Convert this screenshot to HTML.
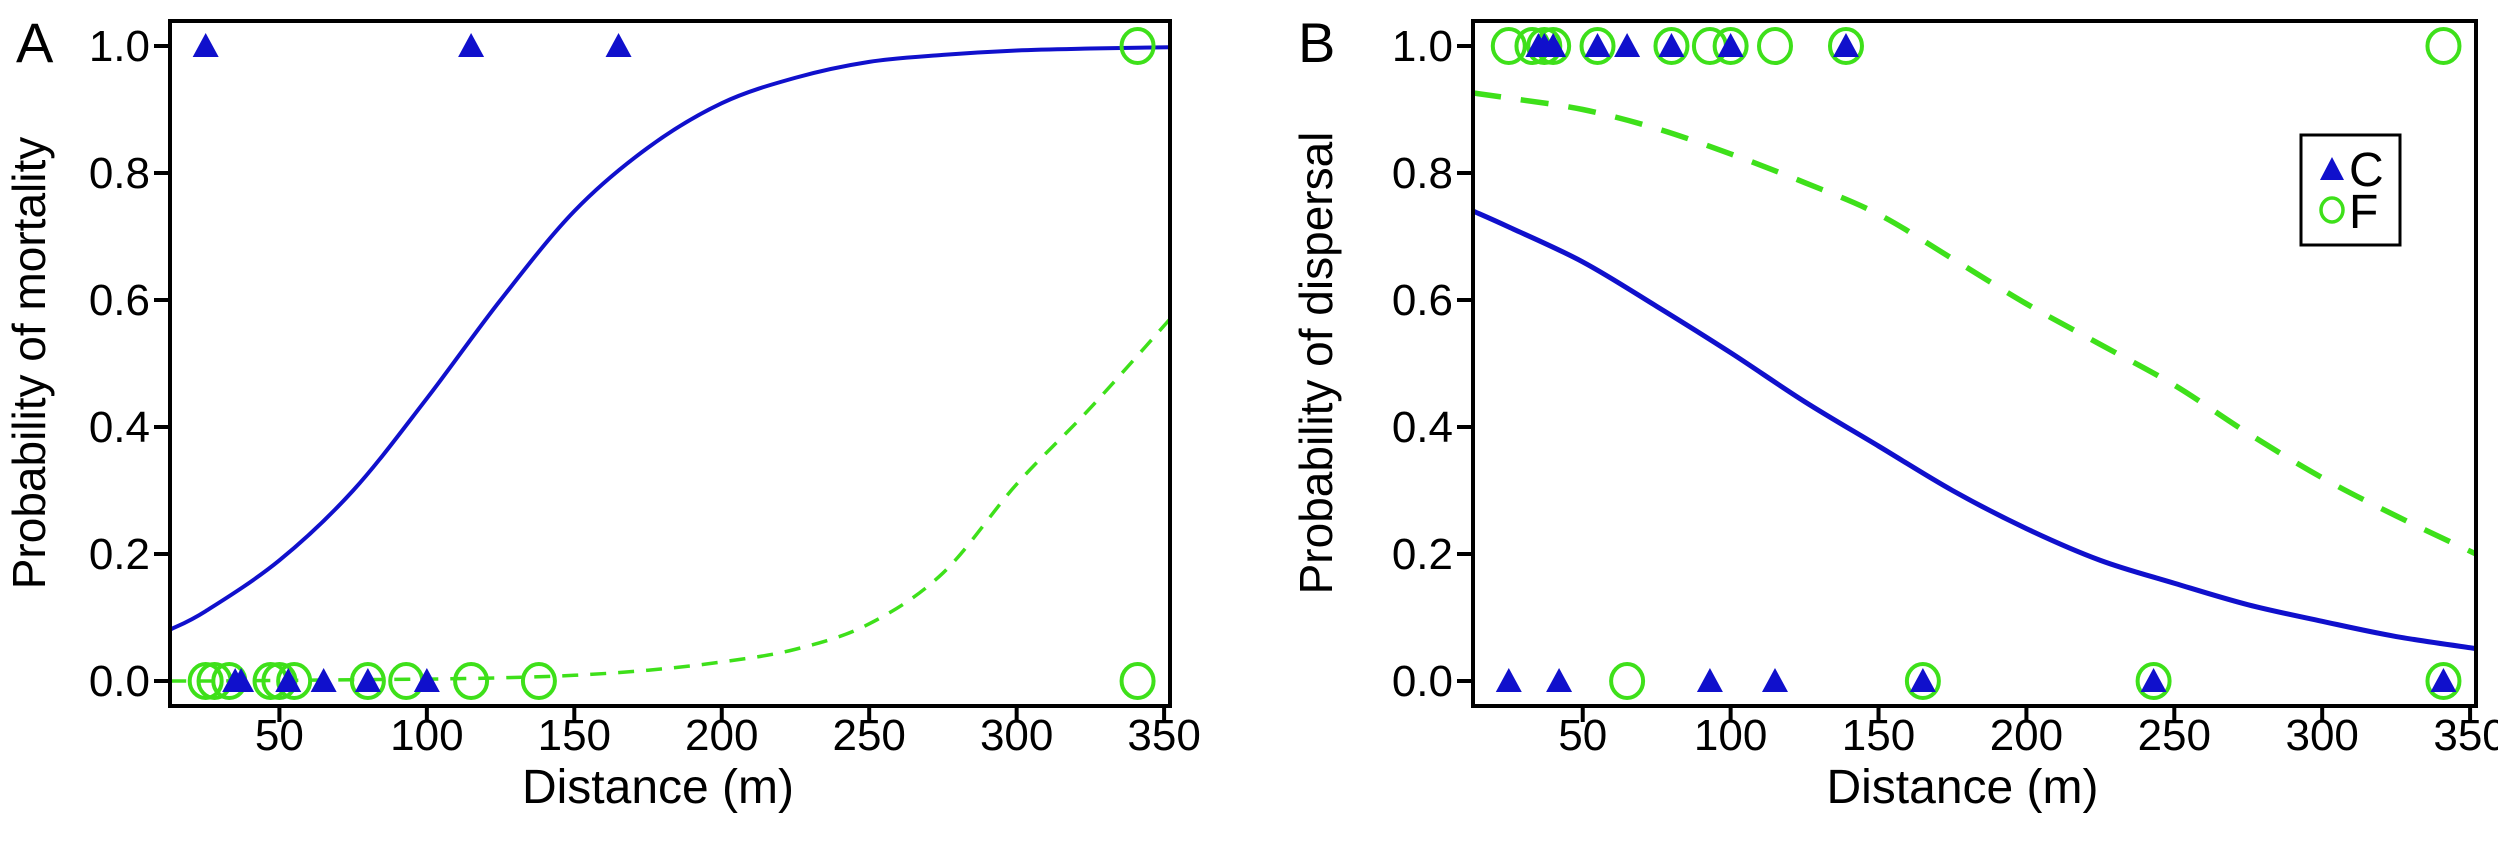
<!DOCTYPE html>
<html><head><meta charset="utf-8"><style>
html,body{margin:0;padding:0;background:#fff;}
svg{display:block;font-family:"Liberation Sans",Arial,sans-serif;}
</style></head><body>
<svg id="fig" width="2498" height="849" viewBox="0 0 2498 849" xmlns="http://www.w3.org/2000/svg"></svg>
<script>
// ---- data ----
const xTicks = [50,100,150,200,250,300,350];
const yTicks = [0,0.2,0.4,0.6,0.8,1.0];
const yTickLabels = ["0.0","0.2","0.4","0.6","0.8","1.0"];
const curveX = [13,25,50,75,100,125,150,175,200,225,250,275,300,325,352];
// Panel A (mortality)
const aCurveC = [0.081,0.11,0.19,0.30,0.445,0.60,0.74,0.84,0.91,0.95,0.975,0.986,0.993,0.996,0.998];
const aCurveF = [0.0,0.0,0.001,0.002,0.003,0.005,0.009,0.017,0.03,0.05,0.09,0.17,0.31,0.43,0.57];
const aC1 = [25,115,165];
const aC0 = [35,37,53,65,80,100];
const aF0 = [25,28,33,47,50,55,80,93,115,138,341];
const aF1 = [341];
// Panel B (dispersal)
const bCurveC = [0.74,0.715,0.66,0.59,0.517,0.44,0.37,0.30,0.24,0.19,0.154,0.12,0.094,0.07,0.051];
const bCurveF = [0.926,0.918,0.90,0.87,0.83,0.785,0.735,0.665,0.594,0.53,0.466,0.39,0.32,0.26,0.20];
const bC1 = [35,37,40,55,65,80,100,139];
const bF1 = [25,33,37,40,55,80,93,100,115,139,341];
const bC0 = [25,42,93,115,165,243,341];
const bF0 = [65,165,243,341];

const NS="http://www.w3.org/2000/svg";
const svg=document.getElementById('fig');
const BLUE="#1010cc", GREEN="#3ee01a";
function el(tag,attrs,parent){const e=document.createElementNS(NS,tag);for(const k in attrs)e.setAttribute(k,attrs[k]);(parent||svg).appendChild(e);return e;}

function panel(opt){
  const g=el('g',{});
  
  
  const L=opt.left,R=opt.right,T=21,B=706;
  const sx=v=>L+(v-12.9)/(352-12.9)*(R-L);
  const sy=v=>681-v*(681-46);
  const clip=el('clipPath',{id:'clip'+opt.id},g);
  el('rect',{x:L,y:T,width:R-L,height:B-T},clip);
  const cg=el('g',{'clip-path':`url(#clip${opt.id})`},g);
  
  
  function curveIn(vals,color,w,dash,name){
    const pts=curveX.map((x,i)=>[sx(x),sy(vals[i])]);
    let d="M"+pts[0][0]+","+pts[0][1];
    for(let i=0;i<pts.length-1;i++){
      const p0=pts[Math.max(0,i-1)],p1=pts[i],p2=pts[i+1],p3=pts[Math.min(pts.length-1,i+2)];
      const c1=[p1[0]+(p2[0]-p0[0])/6,p1[1]+(p2[1]-p0[1])/6];
      const c2=[p2[0]-(p3[0]-p1[0])/6,p2[1]-(p3[1]-p1[1])/6];
      d+=` C${c1[0]},${c1[1]} ${c2[0]},${c2[1]} ${p2[0]},${p2[1]}`;
    }
    const p=el('path',{d:d,fill:'none',stroke:color,'stroke-width':w},cg);
    if(dash)p.setAttribute('stroke-dasharray',dash);
    
    
  }
  curveIn(opt.curveC,BLUE,opt.cw,null,'curve-c');
  curveIn(opt.curveF,GREEN,opt.fw,opt.dash,'curve-f');
  function circles(xs,v){xs.forEach(x=>{
    const c=el('ellipse',{cx:sx(x),cy:sy(v),rx:16,ry:17,fill:'none',stroke:GREEN,'stroke-width':4},g);
    
    
  });}
  function tris(xs,v){xs.forEach(x=>{
    const cx=sx(x),cy=sy(v);
    const t=el('polygon',{points:`${cx},${cy-13} ${cx+13},${cy+11} ${cx-13},${cy+11}`,fill:BLUE},g);
    
    
  });}
  circles(opt.f0,0);circles(opt.f1,1);
  tris(opt.c0,0);tris(opt.c1,1);
  const fr=el('rect',{x:L,y:T,width:R-L,height:B-T,fill:'none',stroke:'#000','stroke-width':4},g);
  
  
  xTicks.forEach(t=>{
    const x=sx(t);
    const ln=el('line',{x1:x,y1:B,x2:x,y2:B+16,stroke:'#000','stroke-width':4},g);
    
    
    const tx=el('text',{x:x,y:750,'font-size':44,'text-anchor':'middle',fill:'#000'},g);
    tx.textContent=t;
    
    
  });
  yTicks.forEach((t,i)=>{
    const y=sy(t);
    const ln=el('line',{x1:L-16,y1:y,x2:L,y2:y,stroke:'#000','stroke-width':4},g);
    
    
    const tx=el('text',{x:L-20,y:y+15,'font-size':44,'text-anchor':'end',fill:'#000'},g);
    tx.textContent=yTickLabels[i];
    
    
  });
  const xt=el('text',{x:(L+R)/2-12,y:803,'font-size':48,'text-anchor':'middle',fill:'#000'},g);
  xt.textContent='Distance (m)';
  
  
  const yt=el('text',{x:0,y:0,'font-size':46,'text-anchor':'middle',fill:'#000',transform:`translate(${opt.ylx},363) rotate(-90)`},g);
  yt.textContent=opt.ytitle;
  
  
  const pl=el('text',{x:opt.letterX,y:62,'font-size':56,fill:'#000'},g);
  pl.textContent=opt.letter;
  
  
  return g;
}
panel({id:'a',name:'panel-a',left:170,right:1170,curveC:aCurveC,curveF:aCurveF,cw:4,fw:3.5,dash:'16 12',
  c0:aC0,c1:aC1,f0:aF0,f1:aF1,ytitle:'Probability of mortality',ylx:45,letter:'A',letterX:16});
panel({id:'b',name:'panel-b',left:1473,right:2476,curveC:bCurveC,curveF:bCurveF,cw:5,fw:5.5,dash:'28 20',
  c0:bC0,c1:bC1,f0:bF0,f1:bF1,ytitle:'Probability of dispersal',ylx:1332,letter:'B',letterX:1298});
const lg=el('g',{});


el('rect',{x:2301,y:135,width:99,height:110,fill:'#fff',stroke:'#000','stroke-width':3},lg);
const lt=el('polygon',{points:'2332,157 2344,180 2320,180',fill:BLUE},lg);


const lc=el('ellipse',{cx:2332,cy:210,rx:11,ry:12,fill:'none',stroke:GREEN,'stroke-width':3.5},lg);


const t1=el('text',{x:2349,y:186,'font-size':48,fill:'#000'},lg);t1.textContent='C';


const t2=el('text',{x:2349,y:228,'font-size':48,fill:'#000'},lg);t2.textContent='F';


</script>
</body></html>
